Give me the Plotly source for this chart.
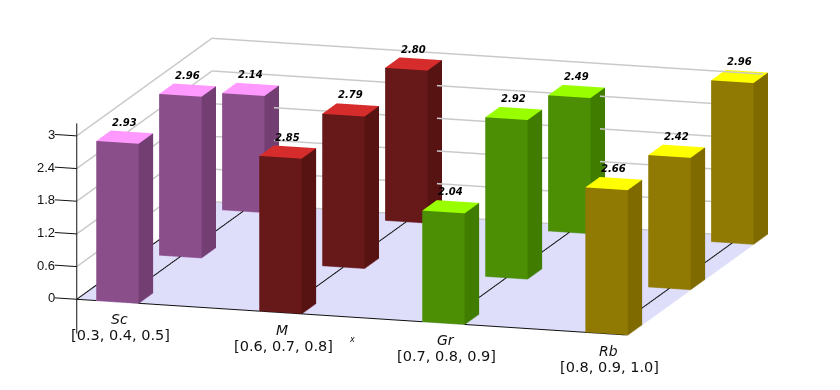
import math
import plotly.graph_objects as go

categories = ["Sc", "M", "Gr", "Rb"]
triples = ["[0.3, 0.4, 0.5]", "[0.6, 0.7, 0.8]", "[0.7, 0.8, 0.9]", "[0.8, 0.9, 1.0]"]
front_row = [2.93, 2.85, 2.04, 2.66]
middle_row = [2.96, 2.79, 2.92, 2.42]
back_row = [2.14, 2.80, 2.49, 2.96]
z_ticks = [0, 0.6, 1.2, 1.8, 2.4, 3]
z_labels = ["0", "0.6", "1.2", "1.8", "2.4", "3"]

front_colors = ["#8A4E8A", "#671818", "#4C8F05", "#917A04"]
side_colors = ["#733F73", "#571212", "#407C00", "#7F6A00"]
top_colors = ["#FF99FF", "#D62C2C", "#99FF00", "#FFFF00"]
base_colors = ["#A878B8", "#9A6A80", "#80A870", "#A89A58"]

rows = [front_row, middle_row, back_row]
HW, HD = 0.13, 0.115
X0, X1, Y0, Y1 = -0.25, 3.13, -0.115, 2.035
FLAT = dict(ambient=1, diffuse=0, specular=0, roughness=1, fresnel=0)
fig = go.Figure()

fig.add_trace(go.Mesh3d(x=[X0, X1, X1, X0], y=[Y0, Y0, Y1, Y1], z=[-0.01] * 4,
                        i=[0, 0], j=[1, 2], k=[2, 3], color="#DEDEFB",
                        flatshading=True, lighting=FLAT, hoverinfo="skip"))

for c in range(len(categories)):
    xs, ys, zs, ii, jj, kk, fc = [], [], [], [], [], [], []
    for r, row in enumerate(rows):
        h = row[c]
        n = len(xs)
        for dz in (0, h):
            for dx, dy in ((-HW, -HD), (HW, -HD), (HW, HD), (-HW, HD)):
                xs.append(c + dx); ys.append(r + dy); zs.append(dz)
        faces = [((0, 1, 5), front_colors[c]), ((0, 5, 4), front_colors[c]),
                 ((1, 2, 6), side_colors[c]), ((1, 6, 5), side_colors[c]),
                 ((4, 5, 6), top_colors[c]), ((4, 6, 7), top_colors[c])]
        for (a, b, d), col in faces:
            ii.append(n + a); jj.append(n + b); kk.append(n + d); fc.append(col)
    fig.add_trace(go.Mesh3d(x=xs, y=ys, z=zs, i=ii, j=jj, k=kk, facecolor=fc,
                            flatshading=True, lighting=FLAT, hoverinfo="skip"))


def lines(segs, color, width):
    x, y, z = [], [], []
    for p, q in segs:
        x += [p[0], q[0], None]; y += [p[1], q[1], None]; z += [p[2], q[2], None]
    fig.add_trace(go.Scatter3d(x=x, y=y, z=z, mode="lines", hoverinfo="skip",
                               line=dict(color=color, width=width)))


grey = []
for t in z_ticks:
    grey.append(((X0, Y0, t), (X0, Y1, t)))
    grey.append(((X0, Y1, t), (X1, Y1, t)))
lines(grey, "#C9C9C9", 3)

TICK = 0.135
black = [((X0, Y0, 0), (X1, Y0, 0)), ((X0, Y0, 0), (X0, Y1, 0)),
         ((X0, Y0, -0.63), (X0, Y0, 3.23))]
black += [((c, Y0, 0), (c, Y1, 0)) for c in range(len(categories))]
black += [((X0 - TICK, Y0, t), (X0, Y0, t)) for t in z_ticks]
lines(black, "#111111", 2)

for c in range(len(categories)):
    segs = []
    for r in range(len(rows)):
        segs.append(((c - HW, r - HD, 0), (c + HW, r - HD, 0)))
        segs.append(((c + HW, r - HD, 0), (c + HW, r + HD, 0)))
    lines(segs, base_colors[c], 2)

ann = []
SERIF = "Liberation Sans"
for t, lab in zip(z_ticks, z_labels):
    ann.append(dict(x=X0 - TICK, y=Y0, z=t, text=lab, showarrow=False, xanchor="right",
                    yanchor="middle", xshift=2, font=dict(size=13, color="#111", family=SERIF)))
for c, (name, tr) in enumerate(zip(categories, triples)):
    ann.append(dict(x=c, y=Y0, z=0, text=f"<i>{name}</i>", showarrow=False, yshift=-17,
                    xshift=2, font=dict(size=14, color="#111", family="DejaVu Sans")))
    ann.append(dict(x=c, y=Y0, z=0, text=tr, showarrow=False, yshift=-33, xshift=3,
                    font=dict(size=14.5, color="#111", family="DejaVu Sans")))
    for r, row in enumerate(rows):
        ann.append(dict(x=c, y=r, z=row[c], text=f"<b><i>{row[c]:.2f}</i></b>", showarrow=False,
                        yshift=15, font=dict(size=10, color="#000", family="DejaVu Sans")))
ann.append(dict(x=1.44, y=Y0, z=0, text="<i>x</i>", showarrow=False, yshift=-22,
                font=dict(size=8, color="#111", family="DejaVu Sans")))

el = math.radians(12.5)
phi = math.radians(73.3)
R = 10
eye = dict(x=R * math.cos(el) * math.cos(phi), y=-R * math.cos(el) * math.sin(phi), z=R * math.sin(el))

x_half, y_half = 1.9, 1.3
x_mid, y_mid, z_mid, z_half = 1.49, 0.96, 1.21, 2.2
px_x, px_y, px_z = 168.7, 217.0, 55.3
wx, wy, wz = 2 * x_half * px_x, 2 * y_half * px_y, 2 * z_half * px_z
ZOOM = 3.35 * 168.7 / 170.4
noax = dict(visible=False, showspikes=False)
fig.update_layout(
    width=840, height=390, margin=dict(l=0, r=0, t=0, b=0), showlegend=False,
    paper_bgcolor="white",
    scene=dict(
        domain=dict(x=[0, 1], y=[0, 1]),
        xaxis=dict(range=[x_mid - x_half, x_mid + x_half], **noax),
        yaxis=dict(range=[y_mid - y_half, y_mid + y_half], **noax),
        zaxis=dict(range=[z_mid - z_half, z_mid + z_half], **noax),
        aspectmode="manual",
        aspectratio=dict(x=ZOOM, y=ZOOM * wy / wx, z=ZOOM * wz / wx),
        camera=dict(eye=eye, up=dict(x=0, y=0, z=1), center=dict(x=0, y=0, z=0),
                    projection=dict(type="orthographic")),
        annotations=ann,
    ),
)
fig.write_html("out.html")
